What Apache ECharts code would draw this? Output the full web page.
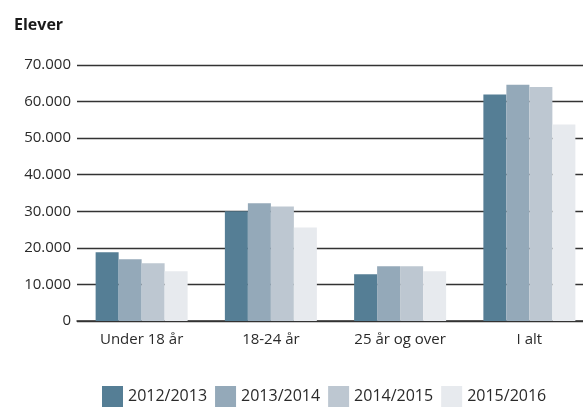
<!DOCTYPE html>
<html>
<head>
<meta charset="utf-8">
<script src="https://cdn.jsdelivr.net/npm/echarts@6/dist/echarts.min.js"></script>
<style>
  html, body { margin: 0; padding: 0; background: #fff; }
  #chart { width: 583px; height: 409px; }
</style>
</head>
<body>
<div id="chart"></div>
<script>
// data
var categories = ["Under 18 år", "18-24 år", "25 år og over", "I alt"];
var seriesNames = ["2012/2013", "2013/2014", "2014/2015", "2015/2016"];
var v2012 = [18800, 30000, 12800, 61900];
var v2013 = [16900, 32200, 15000, 64600];
var v2014 = [15800, 31300, 15000, 64000];
var v2015 = [13600, 25600, 13600, 53700];
var yTicks = [0, 10000, 20000, 30000, 40000, 50000, 60000, 70000];

var colors = ["#557e95", "#94a9b9", "#bdc7d1", "#e7eaee"];
var allValues = [v2012, v2013, v2014, v2015];

var chart = echarts.init(document.getElementById("chart"));

var fontFam = "'Open Sans', 'Noto Sans', sans-serif";

var option = {
  animation: false,
  color: colors,
  title: {
    text: "Elever",
    left: 9,
    top: 12,
    textStyle: { fontSize: 16, fontWeight: "bold", color: "#1a1a1a", fontFamily: fontFam },
  },
  legend: {
    data: seriesNames,
    left: 97,
    top: 381,
    itemWidth: 21,
    itemHeight: 21,
    itemGap: 8,
    icon: "rect",
    textStyle: { fontSize: 16, color: "#2a2a2a", fontFamily: fontFam },
  },
  grid: {
    left: 77,
    right: -11,
    top: 65,
    bottom: 409 - 321,
    outerBoundsMode: "none",
  },
  xAxis: {
    type: "category",
    data: categories,
    axisLine: { show: true, lineStyle: { color: "#333", width: 1.5 } },
    axisTick: { show: false },
    axisLabel: { fontSize: 15, color: "#2a2a2a", margin: 11, fontFamily: fontFam },
  },
  yAxis: {
    type: "value",
    min: yTicks[0],
    max: yTicks[yTicks.length - 1],
    interval: 10000,
    axisLine: { show: false },
    axisTick: { show: false },
    axisLabel: {
      fontSize: 15,
      color: "#2a2a2a",
      margin: 6,
      fontFamily: fontFam,
      formatter: function (value) {
        return String(value).replace(/\B(?=(\d{3})+(?!\d))/g, ".");
      },
    },
    splitLine: { show: true, lineStyle: { color: "#333", width: 1.3 } },
  },
  series: seriesNames.map(function (name, i) {
    return {
      name: name,
      type: "bar",
      data: allValues[i],
      barWidth: 23,
      barGap: "0%",
      itemStyle: { color: colors[i] },
    };
  }),
};

chart.setOption(option);
</script>
</body>
</html>
